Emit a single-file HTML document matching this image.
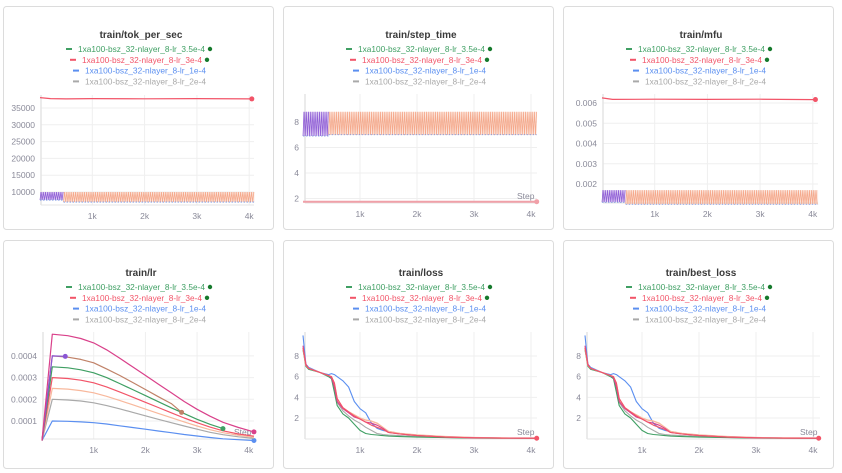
<!DOCTYPE html>
<html><head><meta charset="utf-8"><style>
html,body{margin:0;padding:0;background:#fff;}
svg{display:block;font-family:"Liberation Sans",sans-serif;}
</style></head><body>
<svg id="c" width="842" height="473" viewBox="0 0 842 473"></svg>
<script>
// ---------- data ----------
const seriesNames = ["1xa100-bsz_32-nlayer_8-lr_3.5e-4","1xa100-bsz_32-nlayer_8-lr_3e-4","1xa100-bsz_32-nlayer_8-lr_1e-4","1xa100-bsz_32-nlayer_8-lr_2e-4"];
const legendColors = ["#3f9f63","#f25468","#5b8ff0","#a9a9a9"];
const xTicks = [1000,2000,3000,4000];
const xTickLabels = ["1k","2k","3k","4k"];

// tok_per_sec
const tokSteps = [0,200,500,1000,2000,3000,4050];
const tokRed = [38100,37800,37700,37800,37750,37800,37700];
const tokBandPurple = [450, 7600, 10000];   // [endStep, low, high]
const tokBandPeach = [4100, 7000, 10000];
const tokTicks = [10000,15000,20000,25000,30000,35000];

// step_time
const stSteps = [0,1000,2000,3000,4100];
const stRed = [1.75,1.75,1.75,1.75,1.75];
const stBandPurple = [450, 6.9, 8.8];
const stBandPeach = [4100, 7.0, 8.8];
const stTicks = [2,4,6,8];

// mfu
const mfuSteps = [0,200,1000,2000,3000,4050];
const mfuRed = [0.00625,0.00618,0.00619,0.00618,0.00619,0.00617];
const mfuBandPurple = [450, 0.0011, 0.0017];
const mfuBandPeach = [4100, 0.0010, 0.0017];
const mfuTicks = [0.002,0.003,0.004,0.005,0.006];

// lr
const lrSteps = [0,200,500,750,1000,1250,1500,1750,2000,2250,2500,2750,3000,3250,3500,3800,4100];
const lrMagenta = [0.00001,0.0005,0.000493,0.00048,0.00046,0.000428,0.00039,0.00035,0.00031,0.00027,0.00023,0.00019,0.000154,0.000122,0.000094,0.00007,0.00005];
const lrBrown = [0.00001,0.0004,0.000394,0.000384,0.000368,0.00034,0.00031,0.000278,0.000245,0.000212,0.00018,0.00014];
const lrPurple = [0.00001,0.0004,0.000398];
const lrGreen = [0.00001,0.00035,0.000345,0.000336,0.000322,0.0003,0.000273,0.000245,0.000217,0.000189,0.000161,0.000134,0.000108,0.000085,0.000065];
const lrRed = [0.00001,0.0003,0.000296,0.000288,0.000276,0.000257,0.000234,0.00021,0.000186,0.000162,0.000138,0.000114,0.000092,0.000072,0.000055,0.00004,0.00003];
const lrPeach = [0.00001,0.00025,0.000247,0.00024,0.00023,0.000214,0.000195,0.000175,0.000155,0.000135,0.000115,0.000096,0.000077,0.00006,0.000046,0.000034,0.000025];
const lrGray = [0.00001,0.0002,0.000197,0.000192,0.000184,0.000171,0.000156,0.00014,0.000124,0.000108,0.000092,0.000077,0.000062,0.000048,0.000037,0.000027,0.00002];
const lrBlue = [0.00001,0.0001,0.0000985,0.000096,0.000092,0.000086,0.000078,0.00007,0.000062,0.000054,0.000046,0.000038,0.000031,0.000024,0.000018,0.000014,0.00001];
const lrTicks = [0.0001,0.0002,0.0003,0.0004];
const lrTickLabels = ["0.0001","0.0002","0.0003","0.0004"];

// loss
const lossSteps = [0,50,100,300,450,500,550,600,700,800,900,1000,1100,1200,1300,1400,1500,1700,2000,2500,3000,3500,4100];
const lossMain = [9.0,7.2,6.8,6.4,6.1,5.9,5.0,3.6,2.9,2.5,2.1,1.9,1.6,1.5,1.3,1.0,0.6,0.45,0.3,0.15,0.08,0.05,0.04];
const lossRed = [8.8,7.1,6.8,6.4,6.1,6.0,5.4,3.9,3.0,2.6,2.2,1.9,1.6,1.3,1.1,0.9,0.6,0.45,0.3,0.15,0.08,0.05,0.04];
const lossPeach = [8.8,7.1,6.8,6.4,6.1,6.0,5.3,3.8,3.0,2.6,2.3,2.0,1.8,1.7,1.5,1.1,0.7,0.5,0.35,0.2,0.1,0.06,0.05];
const lossGreen = [8.6,7.0,6.7,6.4,6.0,5.8,4.5,3.2,2.4,2.0,1.4,0.8,0.5,0.4,0.35,0.3,0.25,0.2,0.15,0.1,0.05,0.04,0.03];
const lossGray = [8.8,7.1,6.8,6.4,6.1,5.9,4.8,3.5,2.7,2.2,1.8,1.5,1.1,0.8,0.5,0.4,0.35,0.3,0.2,0.12,0.06,0.04,0.03];
const lossBlue = [10.0,7.2,6.9,6.4,6.2,6.3,6.2,6.0,5.6,5.0,3.6,2.9,2.5,1.5,1.0,0.8,0.7,0.5,0.35,0.18,0.1,0.06,0.05];
const lossTicks = [2,4,6,8];

// ---------- helpers ----------
const NS = "http://www.w3.org/2000/svg";
const svg = document.getElementById("c");
function mk(tag, attrs, parent){ const e=document.createElementNS(NS,tag); for(const k in attrs) e.setAttribute(k,attrs[k]); (parent||svg).appendChild(e); return e; }

function panel(p){
  const g = mk("g",{});
  
  
  const box = mk("rect",{x:p.bx+0.5,y:p.by+0.5,width:p.bw,height:p.bh,rx:3,fill:"#fff",stroke:"#dcdcdc"},g);
  
  
  const cx = p.bx + p.bw/2;
  const t = mk("text",{x:cx+3,y:p.by+p.titleDy,"text-anchor":"middle","font-size":"10px","font-weight":"bold",fill:"#3a3a3a"},g);
  t.textContent = p.title;
  
  
  const offs = [[-60,127],[-56,120],[-53,121],[-53,121]];
  for(let i=0;i<4;i++){
    const ly = p.by + p.titleDy + 14 + i*10.8;
    const tx = cx + offs[i][0];
    const le = mk("g",{},g);
    
    
    mk("line",{x1:tx-12,x2:tx-6,y1:ly-3,y2:ly-3,stroke:legendColors[i],"stroke-width":2},le);
    const lt = mk("text",{x:tx,y:ly,"font-size":"8.3px",fill:legendColors[i],textLength:offs[i][1],lengthAdjust:"spacingAndGlyphs"},le);
    lt.textContent = seriesNames[i];
    if(i<2) mk("circle",{cx:tx+offs[i][1]+5,cy:ly-3,r:2.2,fill:"#157a2c"},le);
  }
  const sx = s => p.x0 + s/1000*p.ppk;
  const sy = v => p.yRef - (v - p.vRef)*p.ppu;
  p.yTicks.forEach((v,i)=>{
    const y = sy(v);
    mk("line",{x1:p.axisX,x2:p.xEnd,y1:y,y2:y,stroke:"#efefef"},g);
    const tl = mk("text",{x:p.axisX-6,y:y+3,"text-anchor":"end","font-size":"8.5px",fill:"#8a8a99"},g);
    tl.textContent = p.yLabels ? p.yLabels[i] : String(v);
    
    
  });
  xTicks.forEach((s,i)=>{
    const x = sx(s);
    mk("line",{x1:x,x2:x,y1:p.yTop,y2:p.yBot,stroke:"#efefef"},g);
    const tl = mk("text",{x:x,y:p.yBot+14,"text-anchor":"middle","font-size":"8.5px",fill:"#8a8a99"},g);
    tl.textContent = xTickLabels[i];
    
    
  });
  mk("line",{x1:p.axisX,x2:p.axisX,y1:p.yTop,y2:p.yBot,stroke:"#e4e4e4","stroke-width":1.5},g);
  mk("line",{x1:p.axisX,x2:p.xEnd,y1:p.yBot,y2:p.yBot,stroke:"#e4e4e4","stroke-width":1},g);
  if(p.step){
    const st = mk("text",{x:p.xEnd-20,y:p.yBot-4,"font-size":"8.5px",fill:"#8a8a99"},g);
    st.textContent="Step";
    
    
  }
  return {g,sx,sy};
}
function line(P, steps, vals, color, name, w, dot){
  let d="";
  vals.forEach((v,i)=>{ d += (i?"L":"M")+P.sx(steps[i]).toFixed(1)+","+P.sy(v).toFixed(1); });
  const l = mk("path",{d:d,fill:"none",stroke:color,"stroke-width":w||1.2,"stroke-linejoin":"round"},P.g);
  
  
  if(dot){ const n=vals.length-1; mk("circle",{cx:P.sx(steps[n]),cy:P.sy(vals[n]),r:2.5,fill:color},P.g); }
}
function band(P, startStep, b, color, name){
  const x0=P.sx(startStep), x1=P.sx(b[0]), yl=P.sy(b[1]), yh=P.sy(b[2]);
  mk("rect",{x:x0,y:yh,width:x1-x0,height:yl-yh,fill:color,opacity:0.25},P.g);
  let d="M"+x0+","+yl; let up=true;
  for(let x=x0+1.1;x<=x1;x+=1.1){ d+="L"+x.toFixed(1)+","+(up?yh:yl).toFixed(1); up=!up; }
  const l = mk("path",{d:d,fill:"none",stroke:color,"stroke-width":0.8,opacity:0.9},P.g);
  
  
  mk("line",{x1:x0,x2:x1,y1:yl,y2:yl,stroke:"#6f8fe0","stroke-width":0.8,"stroke-dasharray":"1.5 1.5"},P.g);
}

// ---------- panels ----------
const P1 = panel({name:"tok-per-sec-chart",title:"train/tok_per_sec",bx:3,by:6,bw:270,bh:223,titleDy:32,
  x0:40,ppk:52.3,axisX:41,xEnd:254,yTop:95,yBot:205,yRef:192,vRef:10000,ppu:84/25000,yTicks:tokTicks});
band(P1,450,tokBandPeach,"#f4a283","tok-peach-series");
band(P1,0,tokBandPurple,"#8a55d4","tok-purple-series");
line(P1,tokSteps,tokRed,"#f25468","tok-red-series",1.2,true);

const P2 = panel({name:"step-time-chart",title:"train/step_time",bx:283,by:6,bw:270,bh:223,titleDy:32,
  x0:303,ppk:57,axisX:305,xEnd:537,yTop:94,yBot:203,yRef:122,vRef:8,ppu:12.75,yTicks:stTicks,step:true});
band(P2,450,stBandPeach,"#f4a283","step-peach-series");
band(P2,0,stBandPurple,"#8a55d4","step-purple-series");
line(P2,stSteps,stRed,"#f0a0a8","step-red-series",2,true);

const P3 = panel({name:"mfu-chart",title:"train/mfu",bx:563,by:6,bw:270,bh:223,titleDy:32,
  x0:602,ppk:52.7,axisX:603,xEnd:818,yTop:94,yBot:203,yRef:103,vRef:0.006,ppu:20250,yTicks:mfuTicks,
  yLabels:["0.002","0.003","0.004","0.005","0.006"]});
band(P3,450,mfuBandPeach,"#f4a283","mfu-peach-series");
band(P3,0,mfuBandPurple,"#8a55d4","mfu-purple-series");
line(P3,mfuSteps,mfuRed,"#f25468","mfu-red-series",1.2,true);

const P4 = panel({name:"lr-chart",title:"train/lr",bx:3,by:240,bw:270,bh:228,titleDy:36,
  x0:42,ppk:51.7,axisX:43,xEnd:254,yTop:332,yBot:439,yRef:421,vRef:0.0001,ppu:217000,yTicks:lrTicks,yLabels:lrTickLabels,step:true});
line(P4,lrSteps,lrBlue,"#5b8ff0","lr-blue-series",1.2,true);
line(P4,lrSteps,lrGray,"#a9a9a9","lr-gray-series",1.2,false);
line(P4,lrSteps,lrPeach,"#f8b89c","lr-peach-series",1.2,false);
line(P4,lrSteps,lrRed,"#f25468","lr-red-series",1.2,false);
line(P4,lrSteps.slice(0,15),lrGreen,"#3f9f63","lr-green-series",1.2,true);
line(P4,lrSteps.slice(0,11).concat([2700]),lrBrown,"#c08268","lr-brown-series",1.2,true);
line(P4,[0,200,450],lrPurple,"#8a55d4","lr-purple-series",1.2,true);
line(P4,lrSteps,lrMagenta,"#d9408a","lr-magenta-series",1.2,true);

function lossPanel(name,title,bx,x0,axisX,xEnd){
  const P = panel({name:name,title:title,bx:bx,by:240,bw:270,bh:228,titleDy:36,
    x0:x0,ppk:57,axisX:axisX,xEnd:xEnd,yTop:332,yBot:439,yRef:418,vRef:2,ppu:10.33,yTicks:lossTicks,step:true});
  line(P,lossSteps,lossBlue,"#5b8ff0",name+"-blue-series",1.1);
  line(P,lossSteps,lossGray,"#a9a9a9",name+"-gray-series",1.1);
  line(P,lossSteps,lossGreen,"#3f9f63",name+"-green-series",1.1);
  line(P,lossSteps,lossPeach,"#f8b89c",name+"-peach-series",1.4);
  line(P,lossSteps,lossMain,"#d9408a",name+"-magenta-series",1.1);
  line(P,lossSteps,lossRed,"#f25468",name+"-red-series",1.1,true);
}
lossPanel("loss-chart","train/loss",283,303,305,537);
lossPanel("best-loss-chart","train/best_loss",563,585,587,820);
</script>
</body></html>
